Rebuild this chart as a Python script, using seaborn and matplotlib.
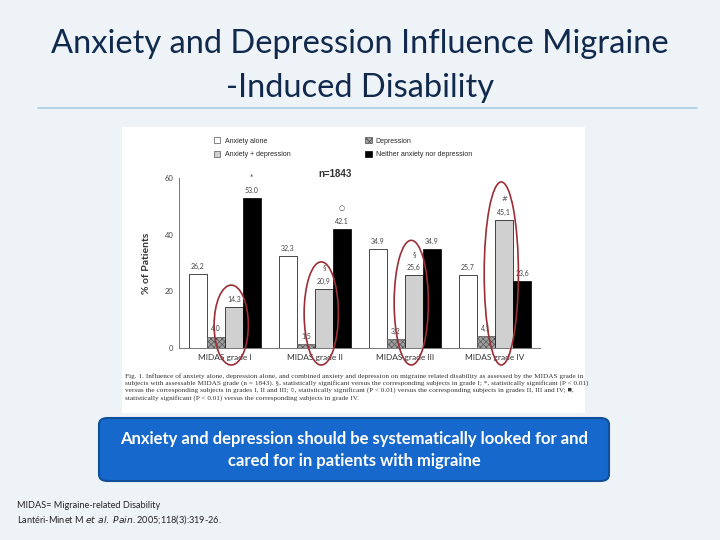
import pandas as pd
import numpy as np
import matplotlib.pyplot as plt
import seaborn as sns
from matplotlib.patches import Ellipse, FancyBboxPatch, Rectangle, Patch

grades = ['MIDAS grade I', 'MIDAS grade II', 'MIDAS grade III', 'MIDAS grade IV']
groups = ['Anxiety alone', 'Depression', 'Anxiety + depression', 'Neither anxiety nor depression']
anxiety_alone = [26.2, 32.3, 34.9, 25.7]
depression = [4.0, 1.5, 3.2, 4.1]
anx_dep = [14.3, 20.9, 25.6, 45.1]
neither = [53.0, 42.1, 34.9, 23.6]
labels = [['26,2', '32,3', '34.9', '25,7'],
          ['4,0', '1,5', '3,2', '4,1'],
          ['14.3', '20,9', '25,6', '45,1'],
          ['53.0', '42.1', '34.9', '23,6']]
# significance marks: (group index, grade index, symbol)
marks = [(3, 0, '*'), (3, 1, '○'), (2, 1, '§'), (2, 2, '§'), (2, 3, '#')]
# tops of the red rings drawn round the anxiety + depression bars
ring_tops = [22.2, 30.4, 38.0, 58.6]

df = pd.DataFrame({
    'grade': grades * 4,
    'group': np.repeat(groups, 4),
    'pct': anxiety_alone + depression + anx_dep + neither,
})

sns.set_style('white')
plt.rcParams['font.family'] = ['Lato', 'DejaVu Sans']
plt.rcParams['hatch.linewidth'] = 0.5

fig = plt.figure(figsize=(7.2, 5.4), dpi=100)
fig.patch.set_facecolor('#eef3f8')

# title + rule
fig.text(0.5, 1 - 44 / 540, 'Anxiety and Depression Influence Migraine', ha='center', va='center',
         fontsize=23.5, color='#10294d')
fig.text(0.5, 1 - 88 / 540, '-Induced Disability', ha='center', va='center',
         fontsize=23.5, color='#10294d')
fig.add_artist(plt.Line2D([38 / 720, 697 / 720], [1 - 108 / 540] * 2, color='#a9cde0', lw=1.2))

# white figure panel
fig.add_artist(Rectangle((122 / 720, 1 - 413 / 540), 463 / 720, 286 / 540,
                         transform=fig.transFigure, facecolor='white', edgecolor='none', zorder=0))

ax = fig.add_axes([179 / 720, 1 - 348 / 540, 361 / 720, 170 / 540])
ax.set_facecolor('none')
sns.barplot(data=df, x='grade', y='pct', hue='group', hue_order=groups, order=grades,
            palette=['white', '#a0a0a0', '#d0d0d0', 'black'], edgecolor='black',
            linewidth=0.5, width=0.8, legend=False, ax=ax)
for b in ax.containers[1]:
    b.set_hatch('xxxxxx')
    b.set_edgecolor('#555555')

ax.set_ylim(0, 60)
ax.set_xlim(-0.51, 3.5)
ax.set_yticks([0, 20, 40, 60])
ax.tick_params(axis='y', labelsize=5.5, length=2, colors='#444444', pad=2)
ax.tick_params(axis='x', labelsize=6, length=0, colors='#333333', pad=4)
ax.set_xlabel('')
ax.set_ylabel('% of Patients', fontsize=7.5, fontweight='bold', color='#333333', labelpad=10)
sns.despine(ax=ax)
for s in ['left', 'bottom']:
    ax.spines[s].set_color('#777777')
    ax.spines[s].set_linewidth(0.7)

for gi, cont in enumerate(ax.containers):
    for ci, b in enumerate(cont):
        ax.annotate(labels[gi][ci], (b.get_x() + b.get_width() / 2, b.get_height()),
                    xytext=(0, 3), textcoords='offset points', ha='center', va='bottom',
                    fontsize=5, color='#444444')
for gi, ci, sym in marks:
    b = ax.containers[gi][ci]
    ax.annotate(sym, (b.get_x() + b.get_width() / 2, b.get_height()),
                xytext=(0, 13), textcoords='offset points', ha='center', va='bottom',
                fontsize=5, color='#444444', family=['DejaVu Sans'])

ax.text(1.22, 61.5, 'n=1843', ha='center', va='center', fontsize=7, fontweight='bold',
        color='#333333', family=['Liberation Sans'])

for i, top in enumerate(ring_tops):
    bottom = -6.0
    ax.add_patch(Ellipse((i + 0.07, (top + bottom) / 2), 0.38, top - bottom, fill=False,
                         edgecolor='#9b2f35', lw=1.2, clip_on=False, zorder=5))

handles = [Patch(facecolor='white', edgecolor='#555555', lw=0.5, label=groups[0]),
           Patch(facecolor='#d0d0d0', edgecolor='#555555', lw=0.5, label=groups[2]),
           Patch(facecolor='#a0a0a0', edgecolor='#555555', lw=0.5, hatch='xxxxxx', label=groups[1]),
           Patch(facecolor='black', edgecolor='black', lw=0.5, label=groups[3])]
fig.legend(handles=handles, ncol=2, frameon=False, loc='upper left',
           bbox_to_anchor=(208 / 720, 1 - 131 / 540), handlelength=0.9, handleheight=0.9,
           columnspacing=10.8, labelspacing=0.9, handletextpad=0.6,
           prop={'family': 'Liberation Sans', 'size': 5})

caption = ('Fig. 1. Influence of anxiety alone, depression alone, and combined anxiety and depression on migraine related disability as assessed by the MIDAS grade in\n'
           'subjects with assessable MIDAS grade (n = 1843). §, statistically significant versus the corresponding subjects in grade I; *, statistically significant (P < 0.01)\n'
           'versus the corresponding subjects in grades I, II and III; ○, statistically significant (P < 0.01) versus the corresponding subjects in grades II, III and IV; ■,\n'
           'statistically significant (P < 0.01) versus the corresponding subjects in grade IV.')
fig.text(125 / 720, 1 - 373 / 540, caption, ha='left', va='top', fontsize=5.2,
         family=['Liberation Serif', 'DejaVu Sans'], color='#333333', linespacing=1.3)

# blue message box
fig.add_artist(FancyBboxPatch((99 / 720, 1 - 481 / 540), 510 / 720, 63 / 540,
                              boxstyle='round,pad=0,rounding_size=0.012', transform=fig.transFigure,
                              facecolor='#1668cc', edgecolor='#0f4f9a', lw=1.5))
fig.text(354 / 720, 1 - 439 / 540, 'Anxiety and depression should be systematically looked for and',
         ha='center', va='center', fontsize=12, fontweight='bold', color='white')
fig.text(354 / 720, 1 - 461 / 540, 'cared for in patients with migraine',
         ha='center', va='center', fontsize=12, fontweight='bold', color='white')

fig.text(17 / 720, 1 - 506 / 540, 'MIDAS= Migraine-related Disability', fontsize=6.6,
         va='center', color='#222222')
fig.text(17 / 720, 1 - 520 / 540, r'Lantéri-Minet M $\it{et\ al.}$ $\it{Pain}$. 2005;118(3):319-26.',
         fontsize=6.6, va='center', color='#222222')

fig.savefig('out.png', dpi=100, facecolor=fig.get_facecolor())
